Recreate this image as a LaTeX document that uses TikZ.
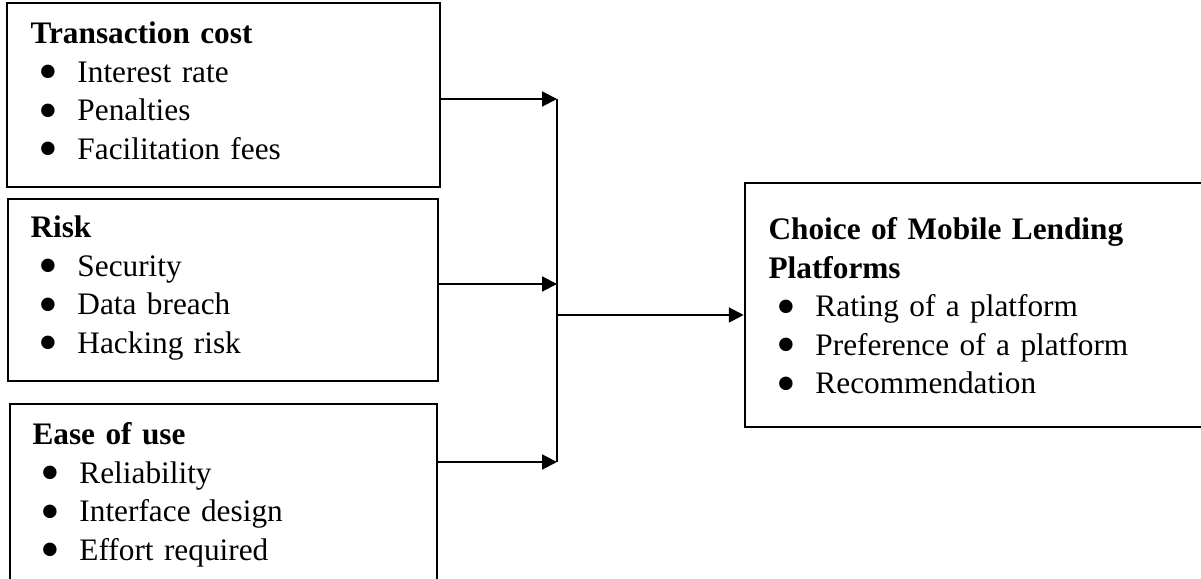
\documentclass[tikz,border=0pt]{standalone}
\usepackage{fontspec}
\setmainfont{Liberation Serif}
\usetikzlibrary{arrows.meta}
\newcommand{\itm}[1]{\\\hspace*{3.1pt}\makebox[14.9pt][l]{\smash{\raisebox{-3.1pt}{\scalebox{1.8}{\textbullet}}}}#1}
\tikzset{
 panel/.style={draw,line width=1pt,inner sep=0pt},
 txt/.style={anchor=base west,align=left,inner sep=0pt,text width=175pt,font=\fontsize{12}{14.76}\selectfont},
 arr/.style={-{Triangle[length=5.7pt,width=5.7pt]},line width=0.8pt},
 bus/.style={line width=0.45pt}
}
\begin{document}
\begin{tikzpicture}[x=0.3834pt,y=-0.3834pt]
\useasboundingbox (0,0) rectangle (1201,579);
\node[panel,minimum width=166pt,minimum height=70.5pt] (cost) at (223.5,95) {};
\node[panel,minimum width=164.9pt,minimum height=69.8pt] (risk) at (223,290) {};
\node[panel,minimum width=163.7pt,minimum height=75.1pt] (ease) at (223.5,502) {};
\node[panel,minimum width=180.2pt,minimum height=93.5pt] (choice) at (980,305) {};
\node[txt] (costtxt) at (30,44) {\textbf{Transaction cost}\itm{Interest rate}\itm{Penalties}\itm{Facilitation fees}};
\node[txt] (risktxt) at (30,238) {\textbf{Risk}\itm{Security}\itm{Data breach}\itm{Hacking risk}};
\node[txt] (easetxt) at (32,445) {\textbf{Ease of use}\itm{Reliability}\itm{Interface design}\itm{Effort required}};
\node[txt] (choicetxt) at (768,240) {\textbf{Choice of Mobile Lending}\\\textbf{Platforms}\itm{Rating of a platform}\itm{Preference of a platform}\itm{Recommendation}};
% junction points on the collecting line
\coordinate (jtop) at (557,99);
\coordinate (jmid) at (557,284);
\coordinate (jbot) at (557,462);
\coordinate (jout) at (557,315);
\draw[bus] (jtop)--(jbot);
\draw[arr] (cost.east |- jtop)--(jtop);
\draw[arr] (risk.east |- jmid)--(jmid);
\draw[arr] (ease.east |- jbot)--(jbot);
\draw[arr] (jout)--(choice.west |- jout);
\end{tikzpicture}
\end{document}
